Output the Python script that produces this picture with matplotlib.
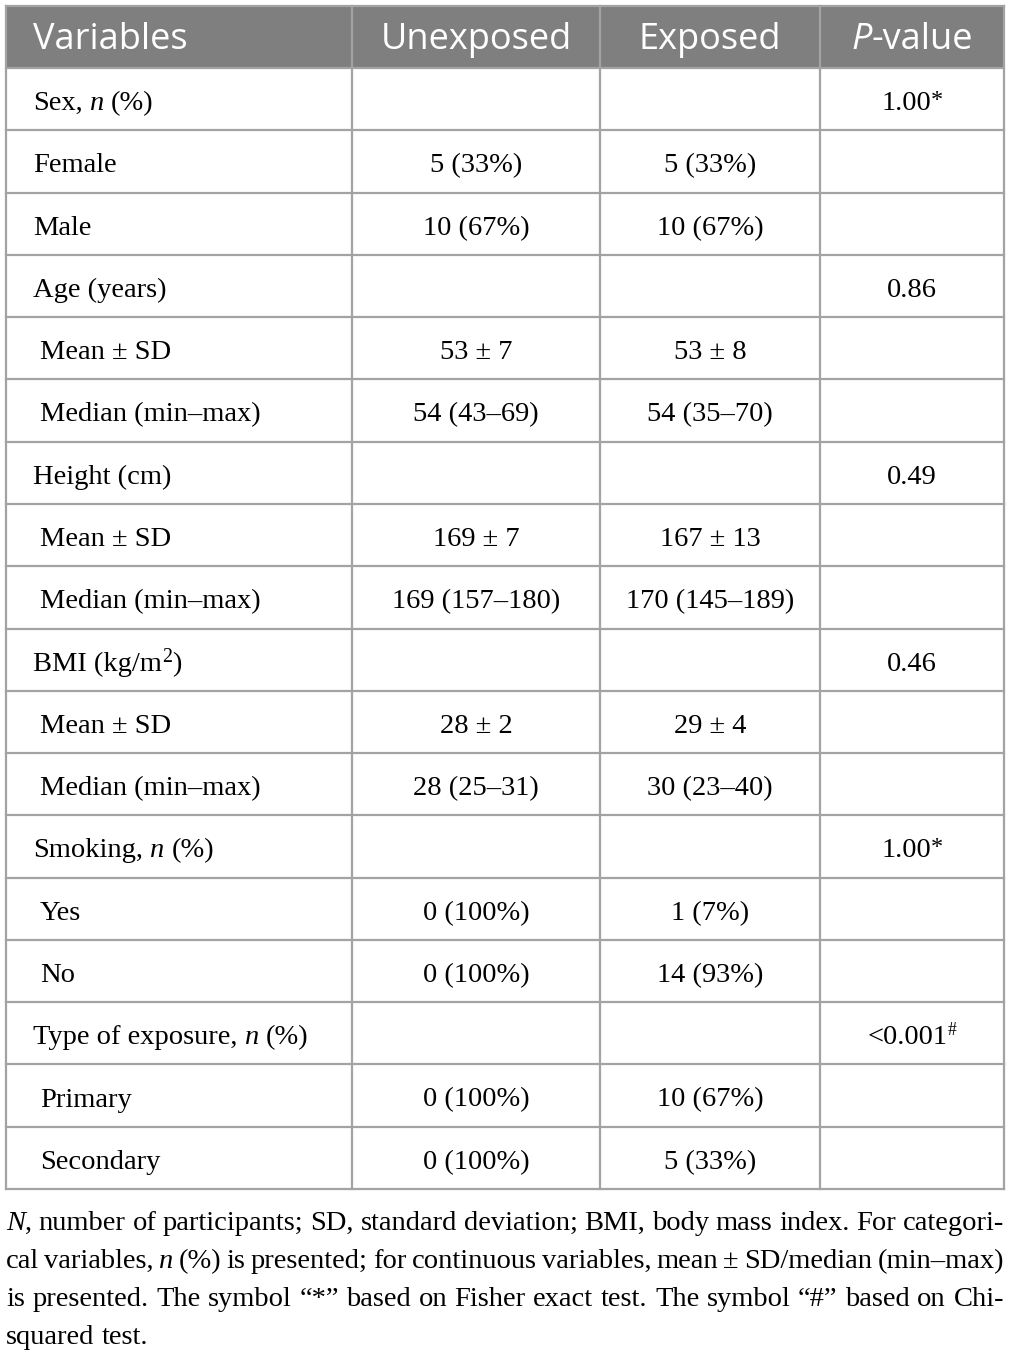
import matplotlib
matplotlib.use("Agg")
import matplotlib.pyplot as plt

# table content
headers = ["Variables", "Unexposed", "Exposed", "P-value"]
row_labels = ["Sex, n (%)", "Female", "Male", "Age (years)", " Mean ± SD", " Median (min–max)",
              "Height (cm)", " Mean ± SD", " Median (min–max)", "BMI (kg/m2)", " Mean ± SD",
              " Median (min–max)", "Smoking, n (%)", " Yes", " No", "Type of exposure, n (%)",
              " Primary", " Secondary"]
unexposed = ["", "5 (33%)", "10 (67%)", "", "53 ± 7", "54 (43–69)", "", "169 ± 7", "169 (157–180)",
             "", "28 ± 2", "28 (25–31)", "", "0 (100%)", "0 (100%)", "", "0 (100%)", "0 (100%)"]
exposed = ["", "5 (33%)", "10 (67%)", "", "53 ± 8", "54 (35–70)", "", "167 ± 13", "170 (145–189)",
           "", "29 ± 4", "30 (23–40)", "", "1 (7%)", "14 (93%)", "", "10 (67%)", "5 (33%)"]
pvalues = ["1.00*", "", "", "0.86", "", "", "0.49", "", "", "0.46", "", "", "1.00*", "", "",
           "<0.001#", "", ""]

footnote = [
    "N, number of participants; SD, standard deviation; BMI, body mass index. For categori-",
    "cal variables, n (%) is presented; for continuous variables, mean ± SD/median (min–max)",
    "is presented. The symbol “*” based on Fisher exact test. The symbol “#” based on Chi-",
    "squared test.",
]

W, H = 1011, 1355
col_x = [6, 352, 600, 820, 1004]
top, head_bot, bottom = 6, 68, 1189
serif = "Liberation Serif"
sans = "Open Sans"
fs = 20.5
hfs = 26
line_col = "#a3a3a3"
head_col = "#7f7f7f"

fig = plt.figure(figsize=(W / 100, H / 100), dpi=100)
ax = fig.add_axes([0, 0, 1, 1])
ax.set_xlim(0, W)
ax.set_ylim(H, 0)
ax.axis("off")
fig.canvas.draw()
rend = fig.canvas.get_renderer()


def txt_width(s, **kw):
    if s == "":
        return 0
    t = ax.text(0, 0, s, **kw)
    w = t.get_window_extent(rend).width
    t.remove()
    return w


def space_width(**kw):
    return txt_width("a a", **kw) - txt_width("aa", **kw)


def runs_width(runs):
    tot = 0
    for s, kw, dy in runs:
        lead = len(s) - len(s.lstrip(" "))
        trail = len(s) - len(s.rstrip(" "))
        core = s.strip(" ")
        tot += txt_width(core, **kw) + (lead + trail) * space_width(**kw)
    return tot


def draw_runs(x, y, runs, ha="left", color="black"):
    if ha == "center":
        x = x - runs_width(runs) / 2
    for s, kw, dy in runs:
        lead = len(s) - len(s.lstrip(" "))
        trail = len(s) - len(s.rstrip(" "))
        core = s.strip(" ")
        sp = space_width(**kw)
        x += lead * sp
        if core:
            ax.text(x, y - dy, core, va="baseline", ha="left", color=color, **kw)
            x += txt_width(core, **kw)
        x += trail * sp


rm = dict(family=serif, fontsize=fs)
it = dict(family=serif, fontsize=fs, style="italic")
sup = dict(family=serif, fontsize=fs * 0.62)
star = dict(family=serif, fontsize=fs * 0.85)


def parse_cell(s):
    # split text into runs with italic n and superscripts
    runs = []
    if s.endswith("*"):
        runs.append((s[:-1], rm, 0))
        runs.append(("*", star, 4))
        return runs
    if s.endswith("#"):
        runs.append((s[:-1], rm, 0))
        runs.append(("#", sup, 9))
        return runs
    if "kg/m2" in s:
        a = s.split("m2")
        runs.append((a[0] + "m", rm, 0))
        runs.append(("2", dict(family=serif, fontsize=fs * 0.7), 9))
        runs.append((a[1], rm, 0))
        return runs
    if ", n " in s:
        a, b = s.split(", n ")
        runs.append((a + ", ", rm, 0))
        runs.append(("n", it, 0))
        runs.append((" " + b, rm, 0))
        return runs
    return [(s, rm, 0)]


n_rows = len(row_labels)
row_h = (bottom - head_bot) / n_rows

# header background
ax.add_patch(plt.Rectangle((col_x[0], top), col_x[-1] - col_x[0], head_bot - top,
                           facecolor=head_col, edgecolor="none", zorder=0))

# grid lines
for i in range(n_rows + 1):
    y = head_bot + i * row_h
    ax.plot([col_x[0], col_x[-1]], [y, y], color=line_col, lw=1.6, zorder=1)
ax.plot([col_x[0], col_x[-1]], [top, top], color=line_col, lw=1.6, zorder=1)
for x in col_x:
    ax.plot([x, x], [top, bottom], color=line_col, lw=1.6, zorder=1)

# header text
hkw = dict(family=sans, fontsize=hfs)
hy = (top + head_bot) / 2 + 12
draw_runs(col_x[0] + 27, hy, [(headers[0], hkw, 0)], color="white")
for j in (1, 2):
    draw_runs((col_x[j] + col_x[j + 1]) / 2, hy, [(headers[j], hkw, 0)], ha="center", color="white")
draw_runs((col_x[3] + col_x[4]) / 2, hy,
          [("P", dict(hkw, style="italic"), 0), ("-value", hkw, 0)], ha="center", color="white")

# body
for i in range(n_rows):
    yc = head_bot + (i + 0.5) * row_h
    yb = yc + 11
    lab = row_labels[i]
    indent = 7 if lab.startswith(" ") else 0
    draw_runs(col_x[0] + 27 + indent, yb, parse_cell(lab.strip()))
    for j, col in ((1, unexposed), (2, exposed), (3, pvalues)):
        if col[i]:
            draw_runs((col_x[j] + col_x[j + 1]) / 2, yb, parse_cell(col[i]), ha="center")

# footnote, justified
fn_base = [1230, 1268, 1306, 1344]
fkw = dict(family=serif, fontsize=fs)
fit = dict(family=serif, fontsize=fs, style="italic")


def word_runs(w):
    if w == "N,":
        return [("N", fit, 0), (",", fkw, 0)]
    if w == "n":
        return [("n", fit, 0)]
    return [(w, fkw, 0)]


for k, line in enumerate(footnote):
    words = line.split(" ")
    wr = [word_runs(w) for w in words]
    widths = [runs_width(r) for r in wr]
    left, right = col_x[0], col_x[-1]
    if k < len(footnote) - 1:
        gap = (right - left - sum(widths)) / (len(words) - 1)
    else:
        gap = space_width(**fkw)
    x = left
    for r, w in zip(wr, widths):
        draw_runs(x, fn_base[k], r)
        x += w + gap

fig.savefig("out.png", dpi=100)
